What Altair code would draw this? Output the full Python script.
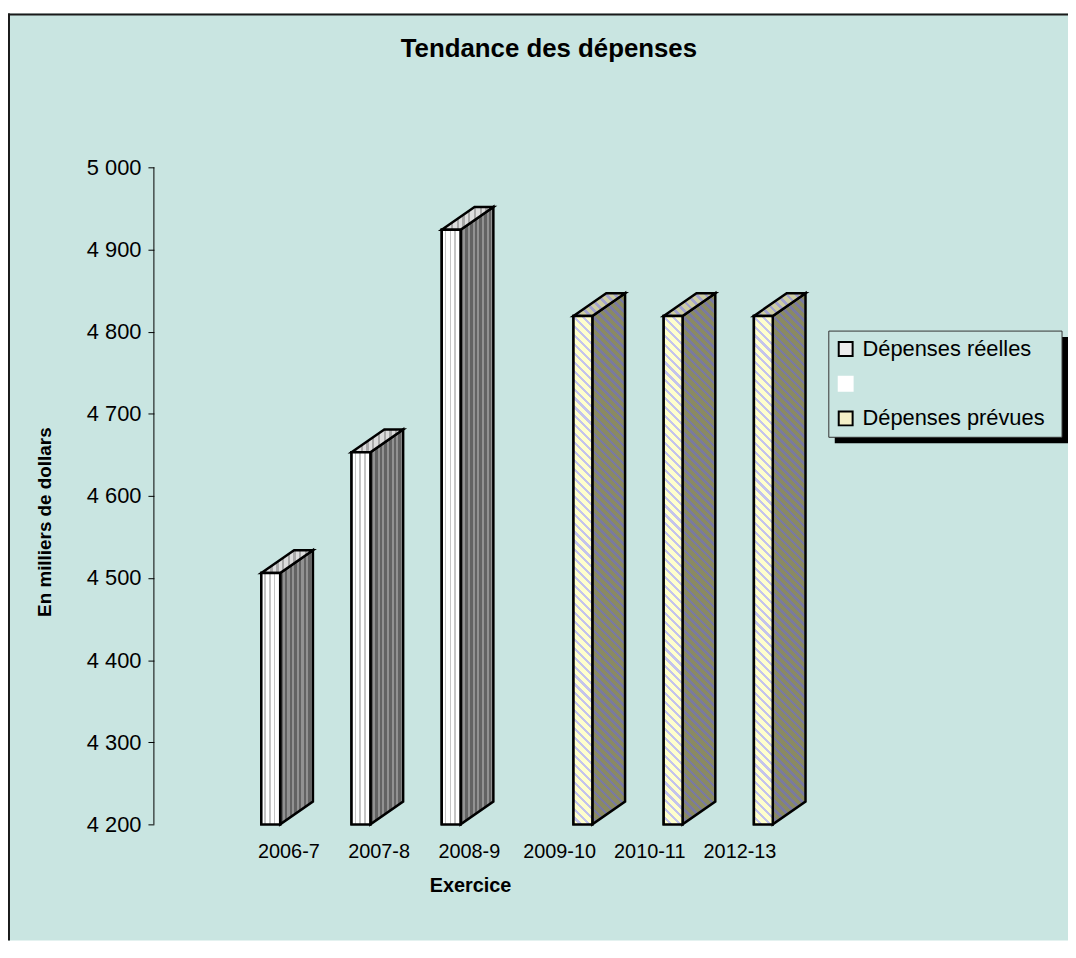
import json
import altair as alt
import pandas as pd

# ---------------- data ----------------
categories = ["2006-7", "2007-8", "2008-9", "2009-10", "2010-11", "2012-13"]
series = ["Dépenses réelles", "Dépenses réelles", "Dépenses réelles",
          "Dépenses prévues", "Dépenses prévues", "Dépenses prévues"]
values = [4506, 4653, 4924, 4819, 4819, 4819]
legend_entries = ["Dépenses réelles", " ", "Dépenses prévues"]
y_ticks = [4200, 4300, 4400, 4500, 4600, 4700, 4800, 4900, 5000]

chart_title = "Tendance des dépenses"
x_title = "Exercice"
y_title = "En milliers de dollars"

# ---------------- layout / style constants ----------------
W, H = 1068, 934            # view = whole framed box
PX_X = 90.9                 # px per category step
PX_Y = 0.8275               # px per unit of value
CAT0_PX = 282.5             # view x of first category centre
BASE_PX = 817               # view y of axis minimum
BASE = y_ticks[0]
x_dom = [-CAT0_PX / PX_X, (W - CAT0_PX) / PX_X]
y_dom = [BASE - (H - BASE_PX) / PX_Y, BASE + BASE_PX / PX_Y]

OFFSET = {"Dépenses réelles": -0.30, "Dépenses prévues": 0.16}
BAR_PX, DX_PX, DY_PX = 19, 33, 23
BAR_W = BAR_PX / PX_X
DX = DX_PX / PX_X
DY = DY_PX / PX_Y

TEAL = "#C9E5E1"
FONT = "Liberation Sans"
SW = 2.5


def stripes(c_base, c_stripe, n, duty=0.4):
    stops = []
    for k in range(n):
        a = k / n
        b = (k + 1 - duty) / n
        c = (k + 1) / n
        stops += [{"offset": round(a, 5), "color": c_base},
                  {"offset": round(b, 5), "color": c_base},
                  {"offset": round(b, 5), "color": c_stripe},
                  {"offset": round(c, 5), "color": c_stripe}]
    return stops


def vgrad(stops):
    return {"gradient": "linear", "x1": 0, "y1": 0, "x2": 1, "y2": 0, "stops": stops}


def dgrad(w, h, stops):
    k = w * (w + h) / (w * w + h * h)
    return {"gradient": "linear", "x1": 0, "y1": 1, "x2": k, "y2": 1 - k * h / w,
            "stops": stops}


plan_h = (values[3] - BASE) * PX_Y
G_R_FRONT = vgrad(stripes("#FFFFFF", "#C4C4C4", 4, 0.35))
G_R_SIDE = vgrad(stripes("#636363", "#929292", 7, 0.45))
G_R_TOP = vgrad(stripes("#DCDCDC", "#A8A8A8", 9, 0.4))
G_P_FRONT = dgrad(BAR_PX, plan_h, stripes("#FFFFCC", "#C4C4EC", int((BAR_PX + plan_h) / 9), 0.35))
G_P_SIDE = dgrad(DX_PX, plan_h + DY_PX, stripes("#8A8A62", "#7A7AA0", int((DX_PX + plan_h + DY_PX) / 9), 0.4))
G_P_TOP = dgrad(BAR_PX + DX_PX, DY_PX, stripes("#CDCDA2", "#A4A4CC", int((BAR_PX + DX_PX + DY_PX) / 9), 0.4))

# ---------------- geometry tables built from the data ----------------
front_rows, side_rows, top_rows = [], [], []
for i, (cat, s, v) in enumerate(zip(categories, series, values)):
    xl = i + OFFSET[s]
    xr = xl + BAR_W
    front_rows.append({"cat": cat, "series": s, "value": v, "base": BASE, "xl": xl, "xr": xr})
    side_rows += [{"bar": cat, "series": s, "x": xr, "y": v, "y2": BASE},
                  {"bar": cat, "series": s, "x": xr + DX, "y": v + DY, "y2": BASE + DY}]
    top_rows += [{"bar": cat, "series": s, "y": v, "x": xl, "x2": xr},
                 {"bar": cat, "series": s, "y": v + DY, "x": xl + DX, "x2": xr + DX}]
front = pd.DataFrame(front_rows)
side = pd.DataFrame(side_rows)
top = pd.DataFrame(top_rows)

xs = alt.Scale(domain=x_dom, nice=False, zero=False)
ys = alt.Scale(domain=y_dom, nice=False, zero=False)

x_axis = alt.Axis(values=list(range(len(categories))),
                  labelExpr=json.dumps(categories) + "[datum.value]",
                  title=x_title, offset=-99.5, domain=False, ticks=False, tickSize=0,
                  grid=False, labelPadding=0, labelFont=FONT, labelFontSize=20,
                  labelColor="#000000", labelBaseline="top",
                  titleFont=FONT, titleFontSize=20, titleFontWeight="bold",
                  titleColor="#000000", titleX=465.5, titleY=50.5,
                  titleBaseline="alphabetic", titleAlign="center")
y_axis = alt.Axis(values=y_ticks,
                  labelExpr="replace(format(datum.value, ','), ',', ' ')",
                  title=y_title, offset=-147, domain=False, ticks=True, tickSize=6,
                  tickColor="#000000", tickWidth=1, grid=False, labelPadding=7,
                  labelFont=FONT, labelFontSize=22, labelColor="#000000",
                  titleFont=FONT, titleFontSize=19, titleFontWeight="bold",
                  titleColor="#000000", titleAngle=270, titleX=-110, titleY=512,
                  titleBaseline="middle", titleAlign="center")

layers = []

# frame lines (top and left) and legend box with its shadow
one = pd.DataFrame({"k": [0]})
layers.append(alt.Chart(one).mark_rule(color="#1a1a1a", strokeWidth=2).encode(
    x=alt.value(1), y=alt.value(0), y2=alt.value(H)))
layers.append(alt.Chart(one).mark_rule(color="#1a1a1a", strokeWidth=2).encode(
    x=alt.value(0), x2=alt.value(W), y=alt.value(1)))
layers.append(alt.Chart(one).mark_rect(color="#000000").encode(
    x=alt.value(833), x2=alt.value(1068), y=alt.value(326), y2=alt.value(433)))
layers.append(alt.Chart(one).mark_rect(fill=TEAL, stroke="#333333", strokeWidth=1).encode(
    x=alt.value(827), x2=alt.value(1062), y=alt.value(320), y2=alt.value(427)))

# front faces: solid layer carrying legend
leg = alt.Legend(orient="none", legendX=833, legendY=327, title=None,
                 symbolType="square", symbolSize=196, symbolStrokeWidth=2,
                 labelFont=FONT, labelFontSize=22, labelColor="#000000", labelLimit=400,
                 labelOffset=6, rowPadding=13, padding=0)
layers.append(alt.Chart(front).mark_rect(strokeWidth=SW, strokeJoin="miter", opacity=1).encode(
    x=alt.X("xl:Q", scale=xs, axis=x_axis),
    x2="xr:Q",
    y=alt.Y("base:Q", scale=ys, axis=y_axis),
    y2="value:Q",
    fill=alt.Fill("series:N", scale=alt.Scale(domain=legend_entries,
                                              range=["#EDEDED", "#FFFFFF", "#F4F0C8"]),
                  legend=leg),
    stroke=alt.Stroke("series:N", scale=alt.Scale(domain=legend_entries,
                                                  range=["#000000", "#FFFFFF", "#000000"]),
                      legend=leg),
))

# y axis line
layers.append(alt.Chart(pd.DataFrame({"lo": [y_ticks[0]], "hi": [y_ticks[-1]]})).mark_rule(
    color="#000000", strokeWidth=1).encode(
    x=alt.value(147), y=alt.Y("lo:Q", scale=ys, axis=y_axis), y2="hi:Q"))

for s, g_side, g_top in [("Dépenses réelles", G_R_SIDE, G_R_TOP),
                         ("Dépenses prévues", G_P_SIDE, G_P_TOP)]:
    sd = side[side.series == s]
    td = top[top.series == s]
    layers.append(alt.Chart(sd).mark_area(
        orient="vertical", fill=g_side, stroke="#000000", strokeWidth=SW,
        strokeJoin="miter", opacity=1).encode(
        x=alt.X("x:Q", scale=xs, axis=x_axis),
        y=alt.Y("y:Q", scale=ys, axis=y_axis), y2="y2:Q", detail="bar:N"))
    layers.append(alt.Chart(td).mark_area(
        orient="horizontal", fill=g_top, stroke="#000000", strokeWidth=SW,
        strokeJoin="miter", opacity=1).encode(
        y=alt.Y("y:Q", scale=ys, axis=y_axis),
        x=alt.X("x:Q", scale=xs, axis=x_axis), x2="x2:Q", detail="bar:N"))

# striped front faces on top
for s, g_front in [("Dépenses réelles", G_R_FRONT), ("Dépenses prévues", G_P_FRONT)]:
    fd = front[front.series == s]
    layers.append(alt.Chart(fd).mark_rect(
        fill=g_front, stroke="#000000", strokeWidth=SW, strokeJoin="miter", opacity=1).encode(
        x=alt.X("xl:Q", scale=xs, axis=x_axis), x2="xr:Q",
        y=alt.Y("base:Q", scale=ys, axis=y_axis), y2="value:Q"))

chart = alt.layer(*layers).properties(
    width=W, height=H,
    autosize="none",
    padding={"left": 0, "top": 2, "right": 0, "bottom": 0},
    background="#FFFFFF",
    title=alt.TitleParams(text=chart_title, font=FONT, fontSize=26, fontWeight="bold",
                          color="#000000", anchor="middle", frame="group",
                          offset=0, dy=71, dx=11, baseline="alphabetic"),
).configure_view(fill=TEAL, stroke=None)

chart.save("out.html", embed_options={"renderer": "svg", "actions": False})
